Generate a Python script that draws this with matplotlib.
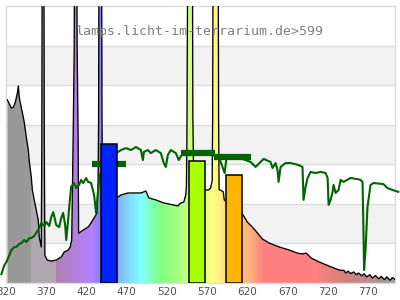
import matplotlib
matplotlib.use('Agg')
import matplotlib.pyplot as plt
import numpy as np

# lamp spectrum (nm, relative)
lamp_nm = [321.7, 323.0, 326.7, 329.2, 331.6, 334.1, 335.3, 336.6, 339.1, 341.5, 342.8, 345.2,
           347.7, 349.0, 351.4, 352.7, 355.1, 360.1, 361.3, 363.8,
           364.5, 365.0, 367.0, 367.6, 368.3,
           371.2, 376.2, 382.4, 388.6, 392.3, 397.2, 399.7,
           401.6, 403.4, 404.7, 405.3, 407.7, 408.4, 409.6, 410.2,
           410.8, 415.8, 422.0, 425.7, 429.4, 433.1,
           434.4, 435.0, 435.6, 438.7, 439.3, 439.9,
           450.4, 459.1, 462.8, 471.5, 478.9, 487.6, 493.8, 497.5, 506.1, 516.0, 527.2, 533.4,
           537.1, 540.8, 543.3,
           544.1, 544.7, 545.9, 551.5, 552.1, 553.4,
           560.0, 568.0, 571.7, 574.2,
           576.1, 576.7, 577.3, 583.5, 584.1, 584.7,
           586.2, 589.9, 591.1, 600.0, 612.2, 616.1, 619.8, 626.0, 632.2, 638.4, 647.1,
           659.5, 671.9, 681.8, 688.0, 692.9, 699.1, 709.0, 721.4, 733.8,
           740, 742, 745, 748, 752, 755, 758, 762, 765, 768, 772, 775, 779, 783, 786,
           790, 793, 797, 800, 803.2]
lamp_val = [0.661, 0.653, 0.632, 0.635, 0.653, 0.686, 0.711, 0.668, 0.632, 0.599, 0.578, 0.527,
            0.480, 0.437, 0.383, 0.336, 0.300, 0.227, 0.166, 0.130,
            0.50, 1.3, 1.3, 0.50, 0.10,
            0.083, 0.079, 0.083, 0.094, 0.112, 0.119, 0.130,
            0.155, 0.52, 0.84, 1.3, 1.3, 0.84, 0.52, 0.18,
            0.181, 0.191, 0.202, 0.217, 0.235, 0.253,
            0.37, 0.58, 1.3, 1.3, 0.58, 0.34,
            0.318, 0.310, 0.318, 0.325, 0.325, 0.325, 0.332, 0.307, 0.300, 0.289, 0.282, 0.278,
            0.289, 0.292, 0.318,
            0.35, 0.52, 1.3, 1.3, 0.60, 0.318,
            0.33, 0.336, 0.336, 0.343,
            0.37, 0.59, 1.3, 1.3, 0.59, 0.336,
            0.336, 0.329, 0.30, 0.28, 0.256, 0.238, 0.220, 0.202, 0.181, 0.159, 0.144,
            0.130, 0.119, 0.108, 0.105, 0.108, 0.090, 0.076, 0.061, 0.047,
            0.045, 0.036, 0.043, 0.034, 0.040, 0.030, 0.036, 0.026, 0.033, 0.022, 0.030, 0.018,
            0.027, 0.015, 0.024, 0.012, 0.022, 0.010, 0.020, 0.012]

# reference spectrum (green line)
ref_nm = [314.3, 318.0, 320.5, 324.2, 326.7, 330.4, 332.9, 336.6, 339.1, 342.8, 345.2, 349.0,
          351.4, 355.1, 357.6, 361.3, 363.8, 367.5, 370.0, 373.7, 376.2, 378.7, 382.4, 386.1,
          388.6, 391.0, 393.5, 394.8, 397.2, 398.5, 400.9, 404.7, 407.1, 410.8, 413.3, 415.8,
          419.5, 422.0, 425.7, 429.4, 431.9, 434.4, 436.8, 448.0, 459.1, 462.8, 469.0, 475.2,
          481.4, 487.6, 490.0, 491.3, 496.2, 499.9, 506.1, 512.3, 516.0, 518.5, 521.0, 524.7,
          530.9, 534.6, 539.6, 549.5, 561.8, 574.2, 584.1, 591.6, 594.0, 605.2, 617.6, 623.8,
          630.0, 636.2, 640.0, 648.6, 651.1, 654.8, 657.3, 658.6, 661.1, 667.3, 673.5, 683.4,
          688.3, 689.6, 692.1, 694.6, 698.4, 704.5, 710.8, 717.0, 719.5, 720.7, 723.2, 725.7,
          726.9, 729.4, 733.1, 735.6, 739.3, 748.0, 756.7, 760.4, 762.9, 764.2, 764.8, 766.6,
          769.0, 772.8, 776.5, 788.8, 793.7, 799.9, 807.3]
ref_val = [0.032, 0.065, 0.076, 0.101, 0.119, 0.130, 0.130, 0.141, 0.144, 0.155, 0.148, 0.162,
           0.162, 0.170, 0.181, 0.199, 0.217, 0.206, 0.220, 0.206, 0.238, 0.256, 0.209, 0.202,
           0.235, 0.253, 0.209, 0.155, 0.227, 0.274, 0.347, 0.361, 0.343, 0.354, 0.372, 0.361,
           0.379, 0.365, 0.361, 0.318, 0.253, 0.336, 0.390, 0.444, 0.473, 0.480, 0.487, 0.480,
           0.491, 0.480, 0.444, 0.473, 0.480, 0.469, 0.480, 0.469, 0.433, 0.419, 0.462, 0.480,
           0.469, 0.444, 0.469, 0.473, 0.466, 0.462, 0.458, 0.397, 0.455, 0.455, 0.444, 0.437,
           0.419, 0.437, 0.448, 0.437, 0.415, 0.433, 0.408, 0.365, 0.419, 0.433, 0.433, 0.426,
           0.419, 0.300, 0.347, 0.379, 0.401, 0.397, 0.401, 0.397, 0.379, 0.282, 0.300, 0.329,
           0.354, 0.325, 0.336, 0.372, 0.365, 0.379, 0.375, 0.372, 0.365, 0.155, 0.047, 0.119,
           0.274, 0.354, 0.361, 0.357, 0.343, 0.336, 0.329]

# band bars of the lamp
bar_left = [437.5, 547.4, 592.9]
bar_right = [458.5, 567.2, 612.7]
bar_height = [0.502, 0.442, 0.389]
bar_colors = ['#0022ff', '#aaff00', '#ffb400']

# band averages of the reference
seg_start = [427, 537, 578]
seg_end = [469, 580, 624]
seg_val = [0.431, 0.469, 0.455]

ticks = [320, 370, 420, 470, 520, 570, 620, 670, 720, 770]

# colour stops of the spectrum fill
stop_nm = [321, 351.4, 351.5, 382.4, 382.5, 419.5, 428, 434, 459, 469, 481, 488, 497, 506, 512,
           531, 543, 567, 577, 586, 591, 612, 624, 632, 641, 705, 723, 746, 771, 790, 804]
stop_rgb = [(153, 153, 153), (153, 153, 153), (176, 168, 176), (176, 168, 176), (176, 128, 176),
            (180, 128, 245), (176, 128, 255), (144, 128, 255), (128, 176, 255), (128, 208, 255),
            (128, 240, 255), (128, 255, 255), (128, 255, 208), (128, 255, 160), (128, 255, 128),
            (160, 255, 128), (192, 255, 128), (240, 255, 128), (255, 255, 128), (255, 240, 128),
            (255, 224, 128), (255, 192, 128), (255, 176, 128), (255, 150, 128), (255, 128, 128),
            (255, 128, 128), (230, 128, 128), (208, 128, 128), (192, 140, 140), (170, 150, 150),
            (160, 160, 160)]

x0, x1 = 321.7, 803.2

fig = plt.figure(figsize=(4, 3), dpi=100)
ax = fig.add_axes([6/400, 17/300, 389/400, 277/300])
ax.set_xlim(x0, x1)
ax.set_ylim(0, 1)

for i in (1, 3, 5):
    ax.axhspan(i/7, (i+1)/7, color='#f2f2f2', lw=0, zorder=0)
for k in range(1, 7):
    ax.axhline(k/7, color='#dddddd', lw=1, zorder=0.5)

fig.text(0.5, 1 - 32/300, 'lamps.licht-im-terrarium.de>599', ha='center', va='center',
         family='DejaVu Sans Mono', fontsize=9.5, color='#808080', zorder=1)

# gradient fill under lamp curve
gx = np.arange(x0, x1, 0.5)
rgb = np.array(stop_rgb) / 255.0
img = np.stack([np.interp(gx, stop_nm, rgb[:, c]) for c in range(3)], axis=-1)[None, :, :]
poly_x = [x0] + lamp_nm + [x1]
poly_y = [0] + lamp_val + [0]
poly = ax.fill(poly_x, poly_y, facecolor='none', edgecolor='none', zorder=2)[0]
im = ax.imshow(img, extent=[x0, x1, 0, 1.4], aspect='auto', origin='lower', zorder=2,
               interpolation='nearest')
im.set_clip_path(poly)
ax.set_ylim(0, 1)
ax.plot(lamp_nm, lamp_val, color='black', lw=0.95, zorder=3)

# reference
ax.plot(ref_nm, ref_val, color='#006400', lw=1.5, zorder=4, clip_on=False)
for s, e, v in zip(seg_start, seg_end, seg_val):
    ax.plot([s, e], [v, v], color='#006400', lw=4.5, solid_capstyle='butt', zorder=4)

for l, r, h, c in zip(bar_left, bar_right, bar_height, bar_colors):
    ax.bar(l, h, width=r - l, align='edge', color=c, edgecolor='black', lw=1.1, zorder=5)

ax.set_xticks(ticks)
ax.set_xticklabels([str(t) for t in ticks])
ax.set_yticks([])
ax.tick_params(axis='x', length=0, pad=3, labelsize=7.5, labelcolor='#505050')
for sp in ax.spines.values():
    sp.set_color('#dddddd')
    sp.set_linewidth(1)

fig.savefig('out.png', dpi=100)
